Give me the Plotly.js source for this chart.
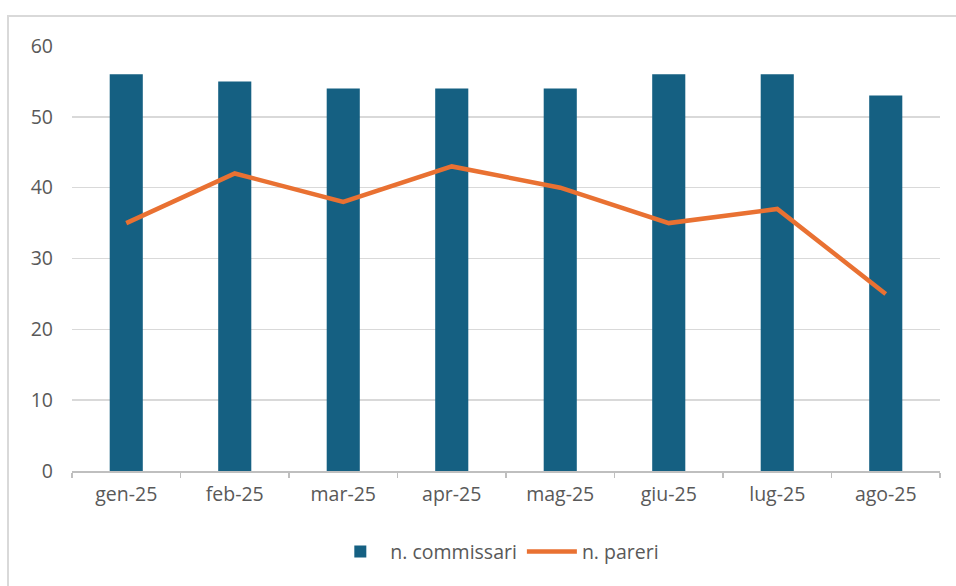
<!DOCTYPE html>
<html>
<head>
<meta charset="utf-8">
<script src="https://cdn.plot.ly/plotly-3.0.1.min.js"></script>
<style>
  html, body { margin: 0; padding: 0; background: #ffffff; }
  #wrap { position: relative; width: 956px; height: 586px; overflow: hidden; }
  #frame { position: absolute; left: 7px; top: 15px; width: 1000px; height: 700px;
           border-left: 2px solid #d9d9d9; border-top: 2px solid #d9d9d9; box-sizing: border-box; }
  #chart { position: absolute; left: 0; top: 0; width: 956px; height: 586px; }
</style>
</head>
<body>
<div id="wrap">
  <div id="frame"></div>
  <div id="chart"></div>
</div>
<script>
const months = ["gen-25", "feb-25", "mar-25", "apr-25", "mag-25", "giu-25", "lug-25", "ago-25"];
const commissari = [56, 55, 54, 54, 54, 56, 56, 53];
const pareri = [35, 42, 38, 43, 40, 35, 37, 25];

const fontFam = "Open Sans, Liberation Sans, Arial, sans-serif";
const textColor = "#595959";

const data = [
  {
    type: "bar",
    name: "n. commissari",
    x: months,
    y: commissari,
    marker: { color: "#156082" },
    hoverinfo: "x+y"
  },
  {
    type: "scatter",
    mode: "lines",
    name: "n. pareri",
    x: months,
    y: pareri,
    line: { color: "#e97132", width: 4.5, shape: "linear" }
  }
];

const layout = {
  width: 956,
  height: 586,
  margin: { l: 72, r: 16, t: 46, b: 115 },
  paper_bgcolor: "rgba(0,0,0,0)",
  plot_bgcolor: "rgba(0,0,0,0)",
  bargap: 0.695,
  font: { family: fontFam, size: 19.5, color: textColor },
  showlegend: true,
  legend: {
    orientation: "h",
    x: 0.49, xanchor: "center",
    y: -0.19, yanchor: "middle",
    font: { family: fontFam, size: 19.5, color: textColor },
    itemwidth: 50,
    traceorder: "normal"
  },
  xaxis: {
    type: "category",
    showgrid: false,
    showline: true,
    linecolor: "#bfbfbf",
    linewidth: 1.5,
    ticks: "outside",
    tickson: "boundaries",
    ticklen: 5,
    tickcolor: "#bfbfbf",
    tickwidth: 1.5,
    tickfont: { family: fontFam, size: 19.5, color: textColor },
    ticklabelstandoff: 5,
    zeroline: false
  },
  yaxis: {
    range: [0, 60],
    dtick: 10,
    tick0: 0,
    showgrid: true,
    gridcolor: "#d9d9d9",
    gridwidth: 1.6,
    showline: false,
    zeroline: false,
    ticks: "",
    tickfont: { family: fontFam, size: 19.5, color: textColor },
    ticklabelstandoff: 18
  }
};

Plotly.newPlot("chart", data, layout, { displayModeBar: false, staticPlot: true });
</script>
</body>
</html>
